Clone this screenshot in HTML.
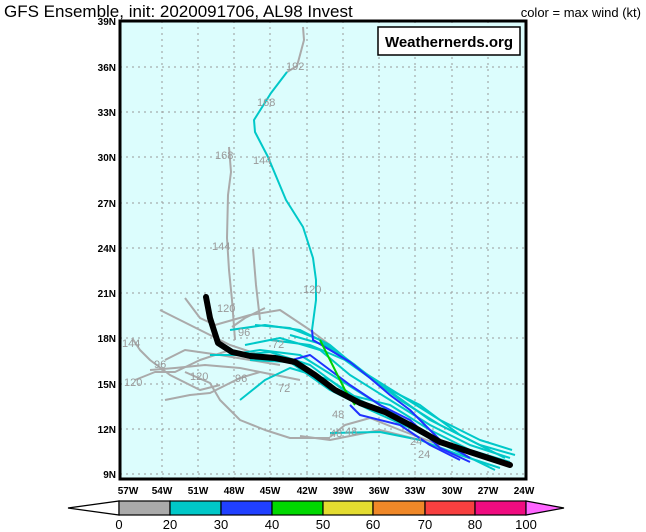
<!DOCTYPE html>
<html><head><style>
body{margin:0;background:#fff;width:646px;height:532px;overflow:hidden}
svg{display:block}
text{font-family:"Liberation Sans",sans-serif}
</style></head><body>
<svg width="646" height="532" viewBox="0 0 646 532">
<text x="4" y="17" font-size="17" fill="#000">GFS Ensemble, init: 2020091706, AL98 Invest</text>
<text x="641" y="17" font-size="13" text-anchor="end" fill="#000">color = max wind (kt)</text>
<rect x="120" y="21" width="406" height="458" fill="#dcfdfd"/>
<g stroke="#999" stroke-width="1" stroke-dasharray="2,4">
<line x1="162" y1="21" x2="162" y2="479"/><line x1="198" y1="21" x2="198" y2="479"/>
<line x1="234" y1="21" x2="234" y2="479"/><line x1="270" y1="21" x2="270" y2="479"/>
<line x1="307" y1="21" x2="307" y2="479"/><line x1="343" y1="21" x2="343" y2="479"/>
<line x1="379" y1="21" x2="379" y2="479"/><line x1="415" y1="21" x2="415" y2="479"/>
<line x1="452" y1="21" x2="452" y2="479"/><line x1="488" y1="21" x2="488" y2="479"/>
<line x1="120" y1="67" x2="526" y2="67"/><line x1="120" y1="112" x2="526" y2="112"/>
<line x1="120" y1="157" x2="526" y2="157"/><line x1="120" y1="203" x2="526" y2="203"/>
<line x1="120" y1="248" x2="526" y2="248"/><line x1="120" y1="293" x2="526" y2="293"/>
<line x1="120" y1="338" x2="526" y2="338"/><line x1="120" y1="384" x2="526" y2="384"/>
<line x1="120" y1="429" x2="526" y2="429"/><line x1="120" y1="474" x2="526" y2="474"/>
</g>
<g fill="none" stroke-width="2" stroke-linejoin="round">
<g stroke="#aaa">
<polyline points="303,27 304,40 300,55 297,66 287,72"/>
<polyline points="229,147 231,172 228,195 227,238 229,270 232,300 235,340"/>
<polyline points="253,249 256,285 260,320"/>
<polyline points="132,338 140,350 150,360 170,375 200,390 220,385"/>
<polyline points="135,380 155,372 175,372 200,360 230,350"/>
<polyline points="165,400 190,395 210,393 240,378 260,372"/>
<polyline points="185,372 210,383 220,400 240,420 265,430 290,438 330,438"/>
<polyline points="160,310 180,320 200,330 230,345 260,355"/>
<polyline points="185,298 200,318 215,325 250,315 280,310 310,330 330,345"/>
<polyline points="165,360 185,350 220,355 250,360 280,365"/>
<polyline points="232,327 245,318 265,308"/>
<polyline points="330,437 345,425 370,418 400,430 440,445"/>
<polyline points="300,436 330,440 380,430 420,440"/>
<polyline points="150,370 175,368 205,365 240,368 260,372 300,380"/>
</g>
<g stroke="#00c8c8">
<polyline points="287,72 271,93 254,120 255,132 268,157 286,200 303,227 313,258 316,280 316,300 312,330"/>
<polyline points="240,400 265,380 290,368 330,380 360,400 400,420 440,440 480,455 505,465"/>
<polyline points="230,330 265,325 300,330 330,345 360,370 400,395 440,420 480,440 512,450"/>
<polyline points="245,345 280,338 320,350 350,375 390,400 430,425 470,445 510,458"/>
<polyline points="228,355 260,350 300,355 340,380 380,405 420,430 460,450 500,462"/>
<polyline points="250,360 290,362 330,390 370,410 410,428 450,448 495,470"/>
<polyline points="255,325 290,328 320,340 355,365 400,400 440,425 480,445 515,455"/>
<polyline points="210,355 240,355 270,352 310,365 350,395 390,405 430,430 470,450 510,462"/>
<polyline points="330,433 380,432 420,440 460,455 500,468"/>
<polyline points="270,340 310,345 345,360 380,385 420,405 460,435 505,458"/>
<polyline points="290,335 325,345 360,370 395,395 430,420 470,440"/>
</g>
<g stroke="#2030ff">
<polyline points="312,330 313,340 330,350 350,362 370,378 390,395 410,410 440,440 470,458"/>
<polyline points="285,362 310,355 330,370 350,385 380,405 410,420 440,448 470,462"/>
<polyline points="350,405 360,415 400,425 430,445 460,460"/>
</g>
<polyline stroke="#00d000" points="320,340 345,390 355,405"/>
<polyline stroke="#000" stroke-width="6" stroke-linecap="round" points="206,297 210,318 218,343 232,352 250,356 275,358 295,362 315,375 335,390 360,403 385,412 410,425 440,442 470,452 510,465"/>
</g>
<g font-size="11" fill="#999">
<text x="286" y="70">192</text><text x="257" y="106">168</text>
<text x="215" y="159">168</text><text x="253" y="164">144</text>
<text x="212" y="250">144</text><text x="303" y="293">120</text>
<text x="217" y="312">120</text><text x="238" y="336">96</text>
<text x="272" y="348">72</text><text x="122" y="347">144</text>
<text x="154" y="368">96</text><text x="124" y="386">120</text>
<text x="190" y="380">120</text><text x="235" y="382">96</text>
<text x="278" y="392">72</text><text x="332" y="418">48</text>
<text x="345" y="435">48</text><text x="330" y="437">48</text>
<text x="410" y="445">24</text><text x="418" y="458">24</text>
</g>
<rect x="120" y="21" width="406" height="458" fill="none" stroke="#000" stroke-width="3"/>
<rect x="378" y="27" width="142" height="28" fill="#fff" stroke="#000" stroke-width="1.5"/>
<text x="449" y="47" font-size="15" font-weight="bold" text-anchor="middle" font-family="Liberation Mono,monospace">Weathernerds.org</text>
<g font-size="10" font-weight="bold" text-anchor="end">
<text x="116" y="25">39N</text><text x="116" y="71">36N</text><text x="116" y="116">33N</text>
<text x="116" y="161">30N</text><text x="116" y="207">27N</text><text x="116" y="252">24N</text>
<text x="116" y="297">21N</text><text x="116" y="342">18N</text><text x="116" y="388">15N</text>
<text x="116" y="433">12N</text><text x="116" y="478">9N</text>
</g>
<g font-size="10" font-weight="bold" text-anchor="middle">
<text x="128" y="494">57W</text><text x="162" y="494">54W</text><text x="198" y="494">51W</text>
<text x="234" y="494">48W</text><text x="270" y="494">45W</text><text x="307" y="494">42W</text>
<text x="343" y="494">39W</text><text x="379" y="494">36W</text><text x="415" y="494">33W</text>
<text x="452" y="494">30W</text><text x="488" y="494">27W</text><text x="524" y="494">24W</text>
</g>
<g stroke="#000" stroke-width="1.2">
<polygon points="68,508 119,501 119,515" fill="#fff"/>
<rect x="119" y="501" width="51" height="14" fill="#aaa"/>
<rect x="170" y="501" width="51" height="14" fill="#00c8c8"/>
<rect x="221" y="501" width="51" height="14" fill="#2040ff"/>
<rect x="272" y="501" width="51" height="14" fill="#00d800"/>
<rect x="323" y="501" width="50" height="14" fill="#e4dc30"/>
<rect x="373" y="501" width="52" height="14" fill="#f08828"/>
<rect x="425" y="501" width="50" height="14" fill="#f84040"/>
<rect x="475" y="501" width="51" height="14" fill="#f00c80"/>
<polygon points="526,501 526,515 564,508" fill="#ff66ff"/>
</g>
<g font-size="13" text-anchor="middle">
<text x="119" y="529">0</text><text x="170" y="529">20</text><text x="221" y="529">30</text>
<text x="272" y="529">40</text><text x="323" y="529">50</text><text x="373" y="529">60</text>
<text x="425" y="529">70</text><text x="475" y="529">80</text><text x="526" y="529">100</text>
</g>
</svg>
</body></html>
